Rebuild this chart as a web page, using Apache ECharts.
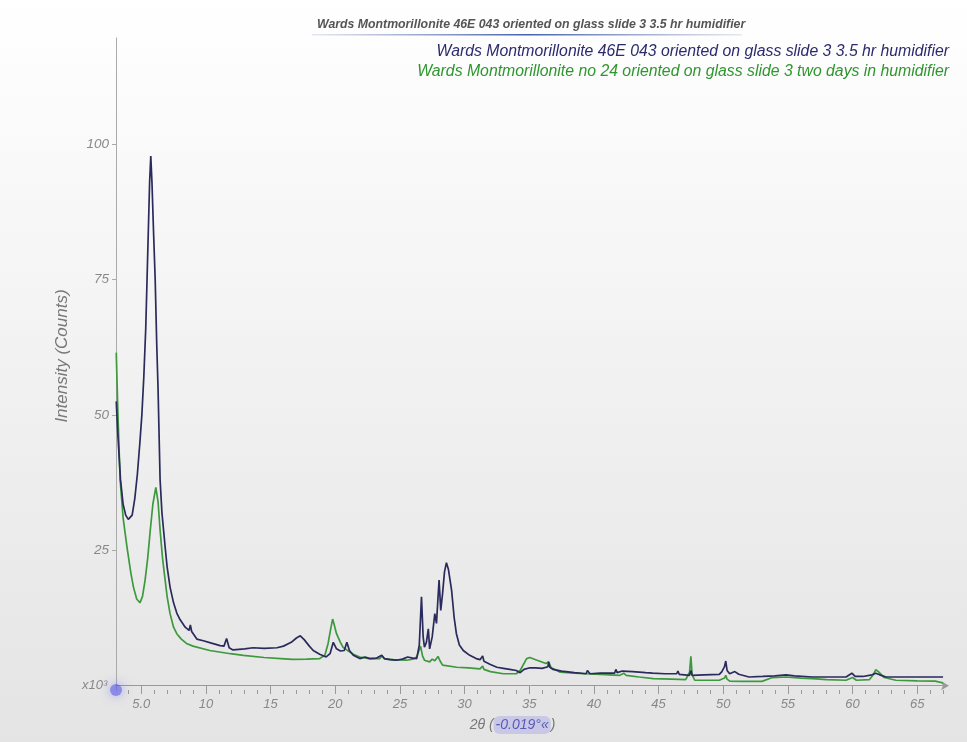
<!DOCTYPE html>
<html>
<head>
<meta charset="utf-8">
<script src="https://cdn.jsdelivr.net/npm/echarts@6/dist/echarts.min.js"></script>
<style>html,body{margin:0;padding:0;}#c{width:967px;height:742px;}</style>
</head>
<body>
<div id="c"></div>
<script>
const chartTitle = 'Wards Montmorillonite 46E 043 oriented on glass slide 3 3.5 hr humidifier';
const seriesNames = [
  'Wards Montmorillonite 46E 043 oriented on glass slide 3 3.5 hr humidifier',
  'Wards Montmorillonite no 24 oriented on glass slide 3 two days in humidifier'
];
const xTickLabels = [5, 10, 15, 20, 25, 30, 35, 40, 45, 50, 55, 60, 65];
const xMinorTicks = [4,5,6,7,8,9,10,11,12,13,14,15,16,17,18,19,20,21,22,23,24,25,26,27,28,29,30,31,32,33,34,35,36,37,38,39,40,41,42,43,44,45,46,47,48,49,50,51,52,53,54,55,56,57,58,59,60,61,62,63,64,65,66,67];
const yTickLabels = [25, 50, 75, 100];

const navyTheta = [3.07,3.2,3.4,3.6,3.8,4.0,4.1,4.3,4.5,4.7,4.9,5.05,5.2,5.35,5.45,5.55,5.65,5.74,5.83,5.95,6.08,6.2,6.3,6.46,6.6,6.85,7.0,7.23,7.5,7.75,8.0,8.4,8.7,8.8,8.9,9.3,9.8,10.5,11.1,11.4,11.6,11.8,12.1,13.0,13.65,14.5,15.5,16.0,16.6,17.0,17.3,17.6,18.0,18.3,18.8,19.3,19.6,19.85,20.1,20.4,20.7,20.9,21.1,21.4,21.9,22.3,22.7,23.2,23.6,23.8,24.2,24.7,25.2,25.6,26.0,26.3,26.5,26.67,26.8,26.9,27.05,27.2,27.3,27.5,27.7,27.83,28.03,28.16,28.3,28.45,28.6,28.75,29.0,29.2,29.37,29.6,29.9,30.4,30.9,31.2,31.4,31.5,32.0,32.5,33.0,33.5,34.0,34.3,34.6,35.05,35.5,36.0,36.45,36.5,36.6,36.85,37.5,38.5,39.4,39.5,39.7,40.5,41.6,41.7,41.8,42.2,43.0,44.0,44.55,45.5,46.4,46.5,46.6,47.4,47.5,47.6,48.5,49.7,49.9,50.1,50.2,50.3,50.5,50.9,51.2,52.0,53.05,54.0,54.85,55.5,56.9,58.0,59.5,59.95,60.2,60.8,61.5,61.8,62.1,62.6,64.0,65.5,67.0];
const navyCounts = [52.5,46,38,33.5,31.5,30.7,30.5,31.5,34.5,39,45,50,57,66,75,84,93,97.8,93,84,75,63,55,38,32,25.6,22,18.2,15.3,13.4,12.2,10.8,10.2,11.2,10.0,8.6,8.3,7.8,7.4,7.3,8.7,7.0,6.6,6.8,7.0,6.9,7.0,7.3,8.0,8.8,9.2,8.5,7.3,6.5,5.8,5.3,5.9,8.0,6.8,6.4,6.5,8.0,6.5,5.6,5.0,5.3,5.0,5.1,5.6,5.0,4.8,4.7,4.9,5.3,5.1,5.0,7.5,16.4,9,7.1,8,10.5,6.8,9,13.3,11.5,19.5,13.9,17,21,22.7,21.5,17.6,12.5,9.6,7.5,6.5,5.6,5.0,4.8,5.5,4.5,3.9,3.4,3.2,3.0,2.8,2.4,3.0,3.3,3.3,3.2,3.5,4.4,3.4,3.0,2.7,2.4,2.2,2.8,2.2,2.3,2.3,3.0,2.4,2.7,2.6,2.4,2.3,2.2,2.2,2.7,2.1,1.9,2.8,1.9,2.0,2.1,2.6,3.5,4.55,2.8,2.2,2.6,2.1,1.6,1.7,1.8,2.0,1.8,1.6,1.6,1.6,2.3,1.7,1.7,2.0,2.3,2.0,1.6,1.6,1.6,1.6];

const greenTheta = [3.07,3.2,3.37,3.6,3.9,4.2,4.4,4.65,4.9,5.1,5.3,5.5,5.7,5.9,6.13,6.3,6.46,6.65,6.85,7.0,7.23,7.5,7.75,8.1,8.5,9.0,10.3,11.9,12.9,14.5,15.8,16.7,17.8,18.8,19.2,19.45,19.65,19.8,19.95,20.1,20.4,20.6,20.9,21.4,21.9,22.6,23.45,23.6,23.8,24.5,25.5,26.0,26.3,26.6,26.75,26.9,27.3,27.5,27.7,27.95,28.1,28.3,29.4,30.3,31.2,31.4,31.5,32.0,33.0,34.0,34.3,34.8,35.05,35.5,36.3,36.5,36.7,37.4,38.5,39.4,40.5,42.0,42.3,42.5,43.5,44.6,46.0,47.1,47.4,47.5,47.6,47.8,48.5,49.7,50.1,50.2,50.3,50.5,51.5,53.0,53.8,54.85,56.0,56.9,58.0,59.5,60.0,60.3,61.3,61.6,61.8,62.0,62.45,63.35,65.0,66.4,67.0];
const greenCounts = [61.5,50,38,31,25.6,20.8,18.2,16,15.3,16.5,19.5,23.5,28.7,33.5,36.6,34,28.7,23.5,19.5,16.5,13.3,10.8,9.6,8.6,7.8,7.3,6.5,5.9,5.6,5.2,5.0,4.86,4.9,5.0,5.6,7.8,10.5,12.3,11.0,9.6,8.0,7.1,6.6,5.8,5.3,5.0,5.0,5.5,5.0,4.8,4.7,4.9,5.3,7.3,5.5,4.7,4.4,4.9,4.6,5.4,4.6,3.8,3.4,3.3,3.1,3.6,3.0,2.6,2.2,2.2,2.8,5.0,5.2,4.8,4.1,4.4,3.3,2.5,2.3,2.2,2.1,1.9,2.3,1.9,1.6,1.3,1.2,1.1,2.5,5.4,2.0,1.0,1.0,1.0,1.4,1.9,1.2,0.85,0.8,0.8,1.5,1.6,1.4,1.3,1.1,1.0,1.5,1.0,1.1,2.0,2.95,2.6,1.5,1.0,0.9,0.85,0.5];

const X_MIN = 3.05, X_MAX = 67.15, Y_MIN = -0.8, Y_MAX = 119.6;
const originMark = [[X_MIN, Y_MIN]];

const navyColor = '#2a2a5c';
const greenColor = '#3d993d';
const pair = (xs, ys) => xs.map((x, i) => [x, ys[i]]);

const chart = echarts.init(document.getElementById('c'));
chart.setOption({
  animation: false,
  backgroundColor: {
    type: 'linear', x: 0, y: 0, x2: 0, y2: 1,
    colorStops: [{offset: 0, color: '#ffffff'}, {offset: 1, color: '#e4e4e4'}]
  },
  title: {
    text: chartTitle,
    left: 312,
    top: 14,
    textStyle: {fontFamily: 'Liberation Sans', fontSize: 12.3, fontWeight: 'bold', fontStyle: 'italic', color: '#555'}
  },
  graphic: [{
    type: 'rect', left: 312, top: 34, shape: {width: 430, height: 1.5},
    style: {fill: {type: 'linear', x: 0, y: 0, x2: 1, y2: 0, colorStops: [
      {offset: 0, color: 'rgba(90,110,170,0.15)'}, {offset: 0.5, color: 'rgba(60,90,170,0.95)'}, {offset: 1, color: 'rgba(90,110,170,0.15)'}]}}
  }, {
    type: 'text', left: 82, top: 679,
    style: {text: 'x10³', font: 'italic 13px "Liberation Sans"', fill: '#888'}
  }],
  legend: {
    orient: 'vertical', right: 8, top: 39, align: 'right', itemGap: 4,
    icon: 'none', itemWidth: 0, itemHeight: 0,
    textStyle: {fontFamily: 'Liberation Sans', fontSize: 15.8, fontStyle: 'italic'},
    data: [
      {name: seriesNames[0], textStyle: {color: '#2b2b6e'}},
      {name: seriesNames[1], textStyle: {color: '#2e962e'}}
    ]
  },
  grid: {left: 116, right: 22, top: 38, bottom: 52},
  xAxis: [{
    type: 'value', min: X_MIN, max: X_MAX,
    name: '{a|2θ (}{b|-0.019°«}{a|)}',
    nameLocation: 'middle', nameGap: 22,
    nameTextStyle: {padding: [0, 36, 0, 0], rich: {
      a: {fontFamily: 'Liberation Sans', fontSize: 14, fontStyle: 'italic', color: '#777'},
      b: {fontFamily: 'Liberation Sans', fontSize: 14, fontStyle: 'italic', color: '#5a5ab8', backgroundColor: 'rgba(150,150,235,0.35)', borderRadius: 6, padding: [2, 2]}
    }},
    axisLine: {show: true, lineStyle: {color: '#999', width: 1}, symbol: ['none', 'arrow'], symbolSize: [7, 8], symbolOffset: [0, 4]},
    axisTick: {show: true, customValues: xTickLabels, length: 5, lineStyle: {color: '#999'}},
    axisLabel: {show: true, customValues: xTickLabels, margin: 8, fontFamily: 'Liberation Sans', fontSize: 13, fontStyle: 'italic', color: '#888',
      formatter: v => v === 5 ? '5.0' : String(v)},
    splitLine: {show: false}
  }, {
    type: 'value', min: X_MIN, max: X_MAX, position: 'bottom',
    axisLine: {show: false},
    axisTick: {show: true, customValues: xMinorTicks, length: 4, lineStyle: {color: '#999'}},
    axisLabel: {show: false},
    splitLine: {show: false}
  }],
  yAxis: {
    type: 'value', min: Y_MIN, max: Y_MAX,
    name: 'Intensity (Counts)', nameLocation: 'middle', nameGap: 45,
    nameTextStyle: {fontFamily: 'Liberation Sans', fontSize: 17, fontStyle: 'italic', color: '#777', padding: [0, 0, 0, 16]},
    axisLine: {show: true, lineStyle: {color: '#aaa'}},
    axisTick: {show: true, customValues: yTickLabels, length: 4, lineStyle: {color: '#aaa'}},
    axisLabel: {show: true, customValues: yTickLabels, margin: 7, fontFamily: 'Liberation Sans', fontSize: 13.5, fontStyle: 'italic', color: '#888'},
    splitLine: {show: false}
  },
  series: [{
    name: seriesNames[0], type: 'line', data: pair(navyTheta, navyCounts),
    showSymbol: false, lineStyle: {color: navyColor, width: 1.7}, itemStyle: {color: navyColor}, z: 3
  }, {
    name: seriesNames[1], type: 'line', data: pair(greenTheta, greenCounts),
    showSymbol: false, lineStyle: {color: greenColor, width: 1.7}, itemStyle: {color: greenColor}, z: 2
  }, {
    name: 'origin', type: 'scatter', data: originMark, symbolSize: 12, clip: false, silent: true,
    itemStyle: {color: 'rgba(90,90,230,0.7)', shadowBlur: 12, shadowColor: 'rgba(90,90,240,0.95)'}, z: 5
  }]
});
</script>
</body>
</html>
